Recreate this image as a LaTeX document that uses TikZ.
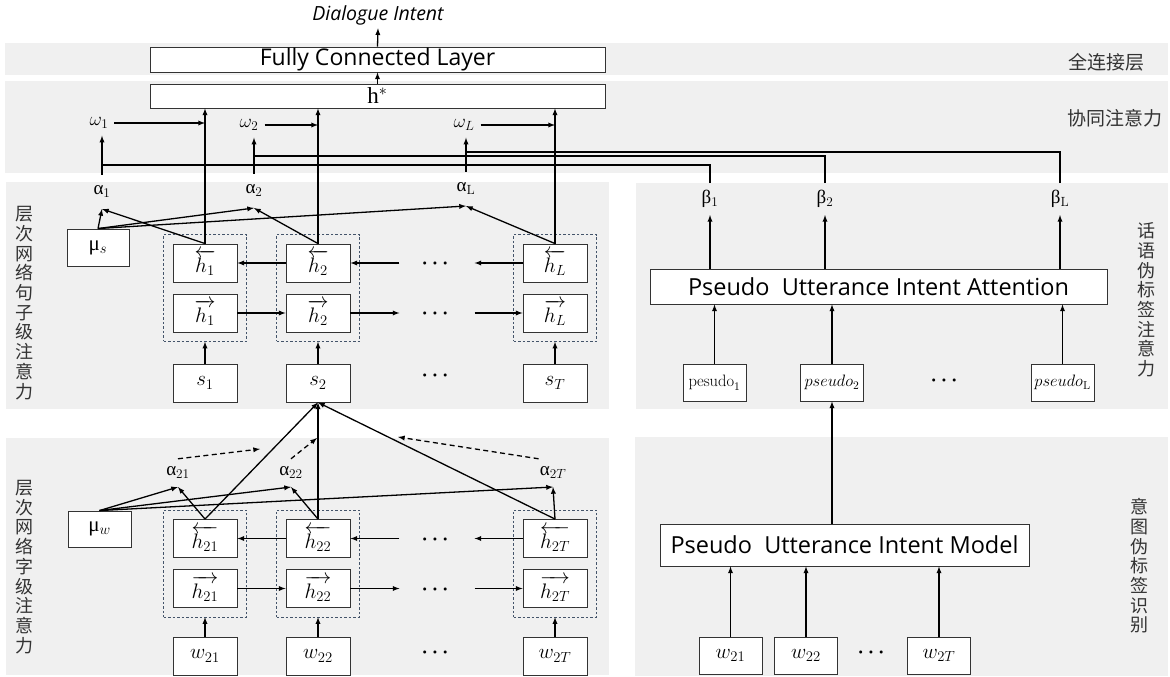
\RequirePackage{fix-cm}
\documentclass[tikz,border=0pt]{standalone}
\usepackage{amsmath}
\usepackage{fontspec}
\newfontfamily\sans{Open Sans}
\newfontfamily\cjk{Noto Sans CJK SC}
\newfontfamily\grk{Liberation Serif}
\usetikzlibrary{fit}

\definecolor{panel}{HTML}{F0F0F0}
\definecolor{grpline}{HTML}{44546A}

\tikzset{
  bx/.style={draw=black!80, fill=white, line width=0.9pt, inner sep=0pt,
    minimum width=64pt, minimum height=38pt, font=\fontsize{21}{22}\selectfont},
  wide/.style={draw=black!80, fill=white, line width=0.9pt, inner sep=0pt,
    font=\sans\fontsize{23.5}{26}\selectfont},
  grp/.style={draw=grpline, dash pattern=on 2.5pt off 2pt, line width=0.6pt, inner sep=9pt},
  glab/.style={font=\fontsize{19}{20}\selectfont, inner xsep=1pt},
  zh/.style={font=\cjk\fontsize{19}{20}\selectfont, text=black!80},
  vz/.style={font=\cjk\fontsize{18}{19.7}\selectfont, text=black!80, align=center, inner sep=0pt},
  con/.style={line width=1.3pt, -latex},
  dsh/.style={line width=1.3pt, dash pattern=on 5pt off 3.5pt, -latex},
  ln/.style={line width=1.3pt},
  dots/.style={font=\fontsize{20}{20}\selectfont, inner xsep=22pt}
}

\begin{document}
\begin{tikzpicture}[x=1pt,y=-1pt]
\useasboundingbox (0,0) rectangle (1170,677);
% grey bands
\fill[panel] (5,43) rectangle (1168,75);
\fill[panel] (5,81) rectangle (1168,173);
\fill[panel] (6,182) rectangle (609,409);
\fill[panel] (636,183) rectangle (1168,409);
\fill[panel] (6,438) rectangle (609,675);
\fill[panel] (635,437) rectangle (1168,676);

% side labels
\node[zh] (lfc) at (1106,62) {全连接层};
\node[zh] (lco) at (1115,118) {协同注意力};
\node[vz] (lsent) at (24,303) {层\\次\\网\\络\\句\\子\\级\\注\\意\\力};
\node[vz] (lword) at (24,567) {层\\次\\网\\络\\字\\级\\注\\意\\力};
\node[vz] (lpua) at (1146,300) {话\\语\\伪\\标\\签\\注\\意\\力};
\node[vz] (lpui) at (1139,566) {意\\图\\伪\\标\\签\\识\\别};

% top
\node[wide, minimum width=455pt, minimum height=25pt, font=\sans\fontsize{23}{24}\selectfont] (fc) at (377.5,59.5) {Fully Connected Layer};
\node[wide, minimum width=455pt, minimum height=24pt, font=\grk\fontsize{23}{24}\selectfont] (hstar) at (377.5,96) {h$^*$};
\node[font=\sans\itshape\fontsize{19.5}{20}\selectfont] (out) at (378,15) {Dialogue Intent};
\draw[con] (fc.north) -- (out.south);
\draw[con] (hstar.north) -- (fc.south);

% sentence level
\node[bx, minimum width=62pt, minimum height=37pt] (mus) at (98,247.5) {{\grk μ}$_s$};
\node[bx] (hb1) at (205,263) {$\overleftarrow{h_1}$};
\node[bx] (hf1) at (205,313) {$\overrightarrow{h_1}$};
\node[bx] (hb2) at (318,263) {$\overleftarrow{h_2}$};
\node[bx] (hf2) at (318,313) {$\overrightarrow{h_2}$};
\node[bx] (hbL) at (555,263) {$\overleftarrow{h_L}$};
\node[bx] (hfL) at (555,313) {$\overrightarrow{h_L}$};
\node[grp, fit=(hb1)(hf1)] (g1) {};
\node[grp, fit=(hb2)(hf2)] (g2) {};
\node[grp, fit=(hbL)(hfL)] (gL) {};
\node[bx] (s1) at (205,383) {$s_1$};
\node[bx] (s2) at (318,383) {$s_2$};
\node[bx] (sT) at (555,383) {$s_T$};
\node[dots] (db1) at (437,264) {$\boldsymbol{\cdots}$};
\node[dots] (df1) at (437,314) {$\boldsymbol{\cdots}$};
\node[dots] (ds1) at (437,376) {$\boldsymbol{\cdots}$};
\draw[con] (hb2.west) -- (hb1.east);
\draw[con] (db1.west |- hb2.east) -- (hb2.east);
\draw[con] (hbL.west) -- (db1.east |- hbL.west);
\draw[con] (hf1.east) -- (hf2.west);
\draw[con] (hf2.east) -- (df1.west |- hf2.east);
\draw[con] (df1.east |- hfL.west) -- (hfL.west);
\draw[con] (s1.north) -- (g1.south);
\draw[con] (s2.north) -- (g2.south);
\draw[con] (sT.north) -- (gL.south);

\node[glab, anchor=south, inner ysep=11pt] (a1) at (102,209) {{\grk α}$_1$};
\node[glab, anchor=south, inner ysep=11pt] (a2) at (254,208) {{\grk α}$_2$};
\node[glab, anchor=south, inner ysep=11pt] (aL) at (466,206) {{\grk α}$_\mathrm{L}$};
\draw[con] (mus.north) -- (a1.south);
\draw[con] (mus.north) -- (a2.south);
\draw[con] (mus.north) -- (aL.south);
\draw[con] (hb1.north) -- (a1.south);
\draw[con] (hb2.north) -- (a2.south);
\draw[con] (hbL.north) -- (aL.south);

% co-attention
\node[glab, inner ysep=7pt, inner xsep=6pt] (o1) at (99,123) {$\omega_1$};
\node[glab, inner ysep=7pt, inner xsep=6pt] (o2) at (249,125) {$\omega_2$};
\node[glab, inner ysep=7pt, inner xsep=6pt] (oL) at (464,125) {$\omega_L$};
\draw[con] (a1.north) -- (a1.north |- o1.south);
\draw[con] (a2.north) -- (a2.north |- o2.south);
\draw[con] (aL.north) -- (aL.north |- oL.south);
\draw[con] (o1.east) -- (o1.east -| hb1.north);
\draw[con] (o2.east) -- (o2.east -| hb2.north);
\draw[con] (oL.east) -- (oL.east -| hbL.north);
\draw[con] (hb1.north) -- (hb1.north |- hstar.south);
\draw[con] (hb2.north) -- (hb2.north |- hstar.south);
\draw[con] (hbL.north) -- (hbL.north |- hstar.south);

% pseudo attention
\node[wide, minimum width=457pt, minimum height=35pt] (puia) at (878.5,286.5) {Pseudo\ \ Utterance Intent Attention};
\node[glab, anchor=south, inner ysep=7pt] (b1) at (710,215) {{\grk β}$_1$};
\node[glab, anchor=south, inner ysep=7pt] (b2) at (825,215) {{\grk β}$_2$};
\node[glab, anchor=south, inner ysep=7pt] (bL) at (1060,215) {{\grk β}$_\mathrm{L}$};
\draw[con] (puia.north -| b1.south) -- (b1.south);
\draw[con] (puia.north -| b2.south) -- (b2.south);
\draw[con] (puia.north -| bL.south) -- (bL.south);
\coordinate (bus1) at (0,165);
\coordinate (bus2) at (0,156);
\coordinate (bus3) at (0,152);
\draw[ln] (b1.north) |- (a1.north |- bus1);
\draw[ln] (b2.north) |- (a2.north |- bus2);
\draw[ln] (bL.north) |- (aL.north |- bus3);
\node[bx, minimum width=63pt, minimum height=37pt, font=\fontsize{16.5}{17}\selectfont] (p1) at (714.5,382.5) {$\mathrm{pesudo}_1$};
\node[bx, minimum width=63pt, minimum height=37pt, font=\fontsize{16.5}{17}\selectfont] (p2) at (832,382.5) {$pseudo_2$};
\node[bx, minimum width=63pt, minimum height=37pt, font=\fontsize{16.5}{17}\selectfont] (pL) at (1062.5,382.5) {$pseudo_\mathrm{L}$};
\node[dots] (dp) at (946,381) {$\boldsymbol{\cdots}$};
\draw[con] (p1.north) -- (p1.north |- puia.south);
\draw[con] (p2.north) -- (p2.north |- puia.south);
\draw[con] (pL.north) -- (pL.north |- puia.south);

% pseudo intent model
\node[wide, minimum width=369pt, minimum height=42pt] (puim) at (844.5,545) {Pseudo\ \ Utterance Intent Model};
\draw[con] (puim.north -| p2.south) -- (p2.south);
\node[bx, minimum width=63pt, minimum height=37pt] (r1) at (730.5,655.5) {$w_{21}$};
\node[bx, minimum width=63pt, minimum height=37pt] (r2) at (806,655.5) {$w_{22}$};
\node[bx, minimum width=63pt, minimum height=37pt] (rT) at (939,655.5) {$w_{2T}$};
\node[dots, inner xsep=2pt] (dr) at (873,653) {$\boldsymbol{\cdots}$};
\draw[con] (r1.north) -- (r1.north |- puim.south);
\draw[con] (r2.north) -- (r2.north |- puim.south);
\draw[con] (rT.north) -- (rT.north |- puim.south);

% word level
\node[bx, minimum width=63pt, minimum height=36pt] (muw) at (99.5,529) {{\grk μ}$_w$};
\node[bx] (hb21) at (205,538.5) {$\overleftarrow{h_{21}}$};
\node[bx] (hf21) at (205,588.5) {$\overrightarrow{h_{21}}$};
\node[bx] (hb22) at (318,538.5) {$\overleftarrow{h_{22}}$};
\node[bx] (hf22) at (318,588.5) {$\overrightarrow{h_{22}}$};
\node[bx] (hb2T) at (555,538.5) {$\overleftarrow{h_{2T}}$};
\node[bx] (hf2T) at (555,588.5) {$\overrightarrow{h_{2T}}$};
\node[grp, fit=(hb21)(hf21)] (g21) {};
\node[grp, fit=(hb22)(hf22)] (g22) {};
\node[grp, fit=(hb2T)(hf2T)] (g2T) {};
\node[bx] (w21) at (205,656) {$w_{21}$};
\node[bx] (w22) at (318,656) {$w_{22}$};
\node[bx] (w2T) at (555,656) {$w_{2T}$};
\node[dots] (db2) at (437,539.5) {$\boldsymbol{\cdots}$};
\node[dots] (df2) at (437,589.5) {$\boldsymbol{\cdots}$};
\node[dots] (dw2) at (437,653) {$\boldsymbol{\cdots}$};
\draw[con] (hb22.west) -- (hb21.east);
\draw[con] (db2.west |- hb22.east) -- (hb22.east);
\draw[con] (hb2T.west) -- (db2.east |- hb2T.west);
\draw[con] (hf21.east) -- (hf22.west);
\draw[con] (hf22.east) -- (df2.west |- hf22.east);
\draw[con] (df2.east |- hf2T.west) -- (hf2T.west);
\draw[con] (w21.north) -- (g21.south);
\draw[con] (w22.north) -- (g22.south);
\draw[con] (w2T.north) -- (g2T.south);

\node[glab, anchor=south, inner ysep=8pt] (a21) at (178,487) {{\grk α}$_{21}$};
\node[glab, anchor=south, inner ysep=8pt] (a22) at (291,487) {{\grk α}$_{22}$};
\node[glab, anchor=south, inner ysep=8pt] (a2T) at (553,487) {{\grk α}$_{2T}$};
\draw[con] (muw.north) -- (a21.south);
\draw[con] (muw.north) -- (a22.south);
\draw[con] (muw.north) -- (a2T.south);
\draw[con] (hb21.north) -- (a21.south);
\draw[con] (hb22.north) -- (a22.south);
\draw[con] (hb2T.north) -- (a2T.south);
\draw[con] (hb21.north) -- (s2.south);
\draw[con] (hb22.north) -- (s2.south);
\draw[con] (hb2T.north) -- (s2.south);
\coordinate (e21) at (260,449);
\coordinate (e22) at (317,438);
\coordinate (e2T) at (398,437);
\draw[dsh] (a21.north) -- (e21);
\draw[dsh] (a22.north) -- (e22);
\draw[dsh] (a2T.north west) -- (e2T);
\end{tikzpicture}
\end{document}
